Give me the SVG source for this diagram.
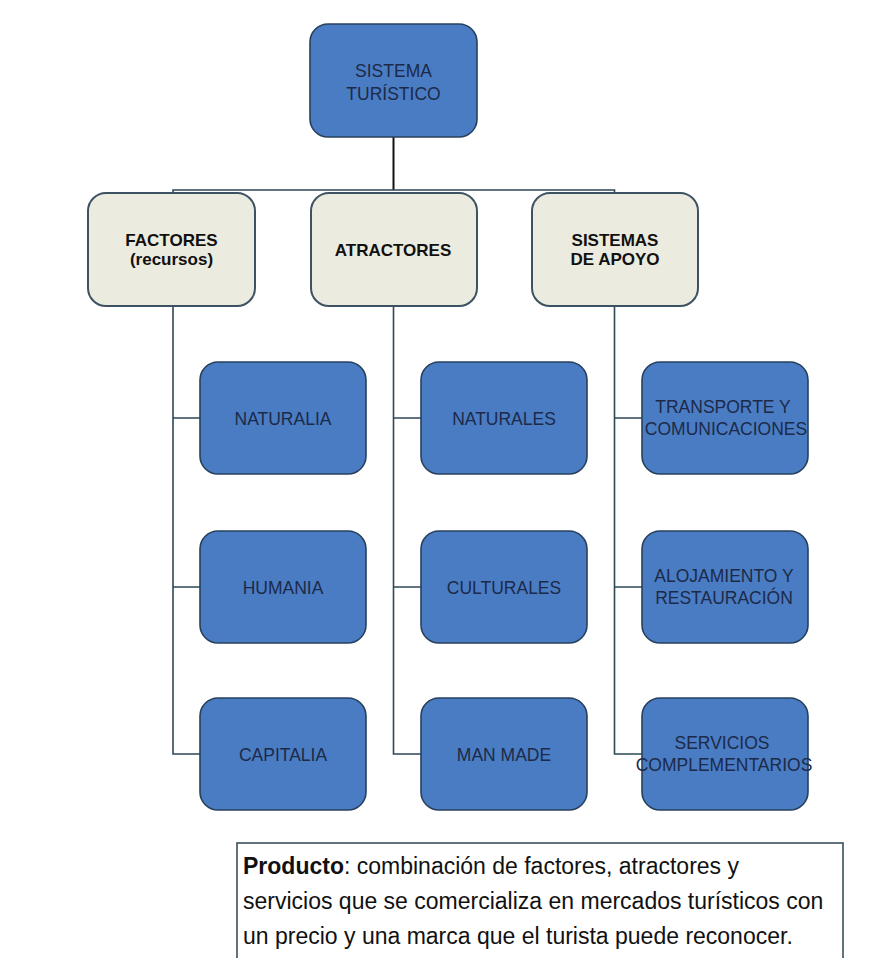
<svg xmlns="http://www.w3.org/2000/svg" width="889" height="958" viewBox="0 0 889 958">
<style>
.blue{fill:#4a7cc4;stroke:#27405c;stroke-width:1.6}
.beige{fill:#ecebe0;stroke:#3d5262;stroke-width:2}
.t{font-family:"Liberation Sans",Arial,sans-serif;font-size:17.5px;fill:#1c2a48;text-anchor:middle}
.b{font-weight:bold;font-size:17px;fill:#111}
.con{stroke:#2e4858;stroke-width:1.6;fill:none}
.p{font-family:"Liberation Sans",Arial,sans-serif;font-size:23px;fill:#111}
</style>
<rect width="889" height="958" fill="#ffffff"/>
<g id="connectors">
<path class="con" d="M393.5 137V190" stroke="#111" style="stroke:#111;stroke-width:2"/>
<path class="con" d="M173 193V190H614.5V193"/>
<path class="con" d="M173 306V754H200M173 418H200M173 587H200"/>
<path class="con" d="M393.5 306V754H421M393.5 418H421M393.5 587H421"/>
<path class="con" d="M614.5 306V754H642M614.5 418H642M614.5 587H642"/>
</g>
<g id="sistema">
<rect class="blue" x="310" y="24" width="167" height="113" rx="18"/>
<text class="t" x="393.5" y="77">SISTEMA</text>
<text class="t" x="393.5" y="100">TURÍSTICO</text>
</g>
<g id="factores">
<rect class="beige" x="88" y="193" width="167" height="113" rx="18"/>
<text class="t b" x="171.5" y="246">FACTORES</text>
<text class="t b" x="171.5" y="265">(recursos)</text>
</g>
<g id="atractores">
<rect class="beige" x="311" y="193" width="166" height="113" rx="18"/>
<text class="t b" x="393" y="256">ATRACTORES</text>
</g>
<g id="sistemas">
<rect class="beige" x="532" y="193" width="166" height="113" rx="18"/>
<text class="t b" x="615" y="246">SISTEMAS</text>
<text class="t b" x="615" y="265">DE APOYO</text>
</g>
<g id="naturalia">
<rect class="blue" x="200" y="362" width="166" height="112" rx="18"/>
<text class="t" x="283" y="425">NATURALIA</text>
</g>
<g id="humania">
<rect class="blue" x="200" y="531" width="166" height="112" rx="18"/>
<text class="t" x="283" y="594">HUMANIA</text>
</g>
<g id="capitalia">
<rect class="blue" x="200" y="698" width="166" height="112" rx="18"/>
<text class="t" x="283" y="761">CAPITALIA</text>
</g>
<g id="naturales">
<rect class="blue" x="421" y="362" width="166" height="112" rx="18"/>
<text class="t" x="504" y="425">NATURALES</text>
</g>
<g id="culturales">
<rect class="blue" x="421" y="531" width="166" height="112" rx="18"/>
<text class="t" x="504" y="594">CULTURALES</text>
</g>
<g id="manmade">
<rect class="blue" x="421" y="698" width="166" height="112" rx="18"/>
<text class="t" x="504" y="761">MAN MADE</text>
</g>
<g id="transporte">
<rect class="blue" x="642" y="362" width="166" height="112" rx="18"/>
<text class="t" x="723" y="413">TRANSPORTE Y</text>
<text class="t" x="726" y="435">COMUNICACIONES</text>
</g>
<g id="alojamiento">
<rect class="blue" x="642" y="531" width="166" height="112" rx="18"/>
<text class="t" x="724" y="582">ALOJAMIENTO Y</text>
<text class="t" x="724" y="604">RESTAURACIÓN</text>
</g>
<g id="servicios">
<rect class="blue" x="642" y="698" width="166" height="112" rx="18"/>
<text class="t" x="722" y="749">SERVICIOS</text>
<text class="t" x="724" y="771">COMPLEMENTARIOS</text>
</g>
<g id="producto">
<rect x="237" y="843" width="606" height="130" fill="#ffffff" stroke="#3a4f5c" stroke-width="1.6"/>
<text class="p" x="243" y="874"><tspan font-weight="bold">Producto</tspan>: combinación de factores, atractores y</text>
<text class="p" x="243" y="909">servicios que se comercializa en mercados turísticos con</text>
<text class="p" x="243" y="944">un precio y una marca que el turista puede reconocer.</text>
</g>
</svg>
